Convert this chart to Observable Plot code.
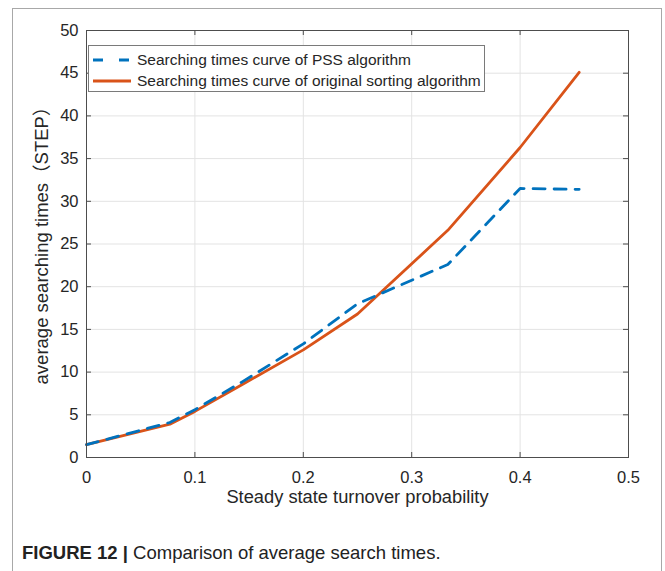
<!DOCTYPE html>
<html><head><meta charset="utf-8">
<script src="https://cdn.jsdelivr.net/npm/d3@7"></script>
<script src="https://cdn.jsdelivr.net/npm/@observablehq/plot@0.6"></script>
<style>
body{margin:0;background:#fff;}
#wrap{position:relative;width:665px;height:571px;overflow:hidden;}
#frame{position:absolute;left:12px;top:8px;width:650px;height:620px;border:1px solid #a8a8a8;box-sizing:border-box;}
#chart{position:absolute;left:0;top:0;}
#caption{position:absolute;left:22px;top:542px;font-family:"Liberation Sans",Arial,sans-serif;font-size:18.5px;color:#222;white-space:nowrap;}
#legend{position:absolute;left:88px;top:45px;width:397px;height:47px;border:1px solid #7a7a7a;background:#fff;box-sizing:border-box;font-family:"Liberation Sans",Arial,sans-serif;font-size:15.5px;color:#262626;}
.row{position:absolute;left:4px;height:20px;display:flex;align-items:center;white-space:nowrap;}
.row svg{margin-right:6px;}
</style></head><body>
<div id="wrap"><div id="frame"></div><div id="chart"></div><div id="legend"></div>
<div id="caption"><b>FIGURE 12 |</b> Comparison of average search times.</div></div>
<script>
const xValues = [0, 0.0769, 0.1, 0.1429, 0.2, 0.25, 0.3333, 0.4, 0.4545];
const pssTimes = [1.5, 4.1, 5.6, 8.8, 13.3, 18.0, 22.6, 31.5, 31.4];
const originalTimes = [1.5, 3.9, 5.4, 8.5, 12.6, 16.8, 26.6, 36.3, 45.1];
const seriesNames = ["Searching times curve of PSS algorithm", "Searching times curve of original sorting algorithm"];
const seriesColors = ["#0072BD", "#D95319"];
const xTicks = [0, 0.1, 0.2, 0.3, 0.4, 0.5];
const yTicks = [0, 5, 10, 15, 20, 25, 30, 35, 40, 45, 50];
const xLabel = "Steady state turnover probability";
const yLabel = "average searching times（STEP）";

const pss = xValues.map((x, i) => ({x, y: pssTimes[i]}));
const orig = xValues.map((x, i) => ({x, y: originalTimes[i]}));

const W = 665, H = 571, mL = 86, mR = 37, mT = 30, mB = 114;
const pw = W - mL - mR, ph = H - mT - mB;
const axisColor = "#4d4d4d";
const font = `"Liberation Sans", Arial, "Noto Sans CJK SC", sans-serif`;

const chart = Plot.plot({
  width: W, height: H,
  marginLeft: mL, marginRight: mR, marginTop: mT, marginBottom: mB,
  style: {background: "transparent", fontFamily: font, color: "#262626"},
  x: {domain: [0, 0.5], ticks: xTicks},
  y: {domain: [0, 50], ticks: yTicks},
  marks: [
    Plot.gridX(xTicks, {stroke: "#e3e3e3", strokeOpacity: 1}),
    Plot.gridY(yTicks, {stroke: "#e3e3e3", strokeOpacity: 1}),
    Plot.line(orig, {x: "x", y: "y", stroke: seriesColors[1], strokeWidth: 2.8}),
    Plot.line(pss, {x: "x", y: "y", stroke: seriesColors[0], strokeWidth: 2.8, strokeDasharray: "12,9"}),
    Plot.frame({stroke: axisColor, strokeWidth: 1}),
    Plot.tickY(yTicks, {y: d => d, stroke: axisColor, insetRight: pw - 5}),
    Plot.tickY(yTicks, {y: d => d, stroke: axisColor, insetLeft: pw - 5}),
    Plot.tickX(xTicks, {x: d => d, stroke: axisColor, insetTop: ph - 5}),
    Plot.tickX(xTicks, {x: d => d, stroke: axisColor, insetBottom: ph - 5}),
    Plot.axisX(xTicks, {tickSize: 0, tickPadding: 14, fontSize: 16.5, label: null, tickFormat: d => String(d), fill: "#262626"}),
    Plot.axisY(yTicks, {tickSize: 0, tickPadding: 8, fontSize: 16.5, label: null, tickFormat: d => String(d), fill: "#262626"}),
    Plot.text([xLabel], {text: d => d, frameAnchor: "bottom", dy: 45, fontSize: 18.3, fill: "#262626"}),
    Plot.text([yLabel], {text: d => d, frameAnchor: "left", textAnchor: "middle", dx: -44, dy: -3, rotate: -90, fontSize: 18.5, fill: "#262626"})
  ]
});
document.getElementById("chart").appendChild(chart);

const legend = document.getElementById("legend");
seriesNames.forEach((name, i) => {
  const row = document.createElement("div");
  row.className = "row";
  row.style.top = (i === 0 ? 4 : 25) + "px";
  const dash = i === 0 ? 'stroke-dasharray="10,16"' : "";
  row.innerHTML = `<svg width="38" height="6"><line x1="0" y1="3" x2="38" y2="3" stroke="${seriesColors[i]}" stroke-width="3" ${dash}/></svg><span>${name}</span>`;
  legend.appendChild(row);
});
</script>
</body></html>
